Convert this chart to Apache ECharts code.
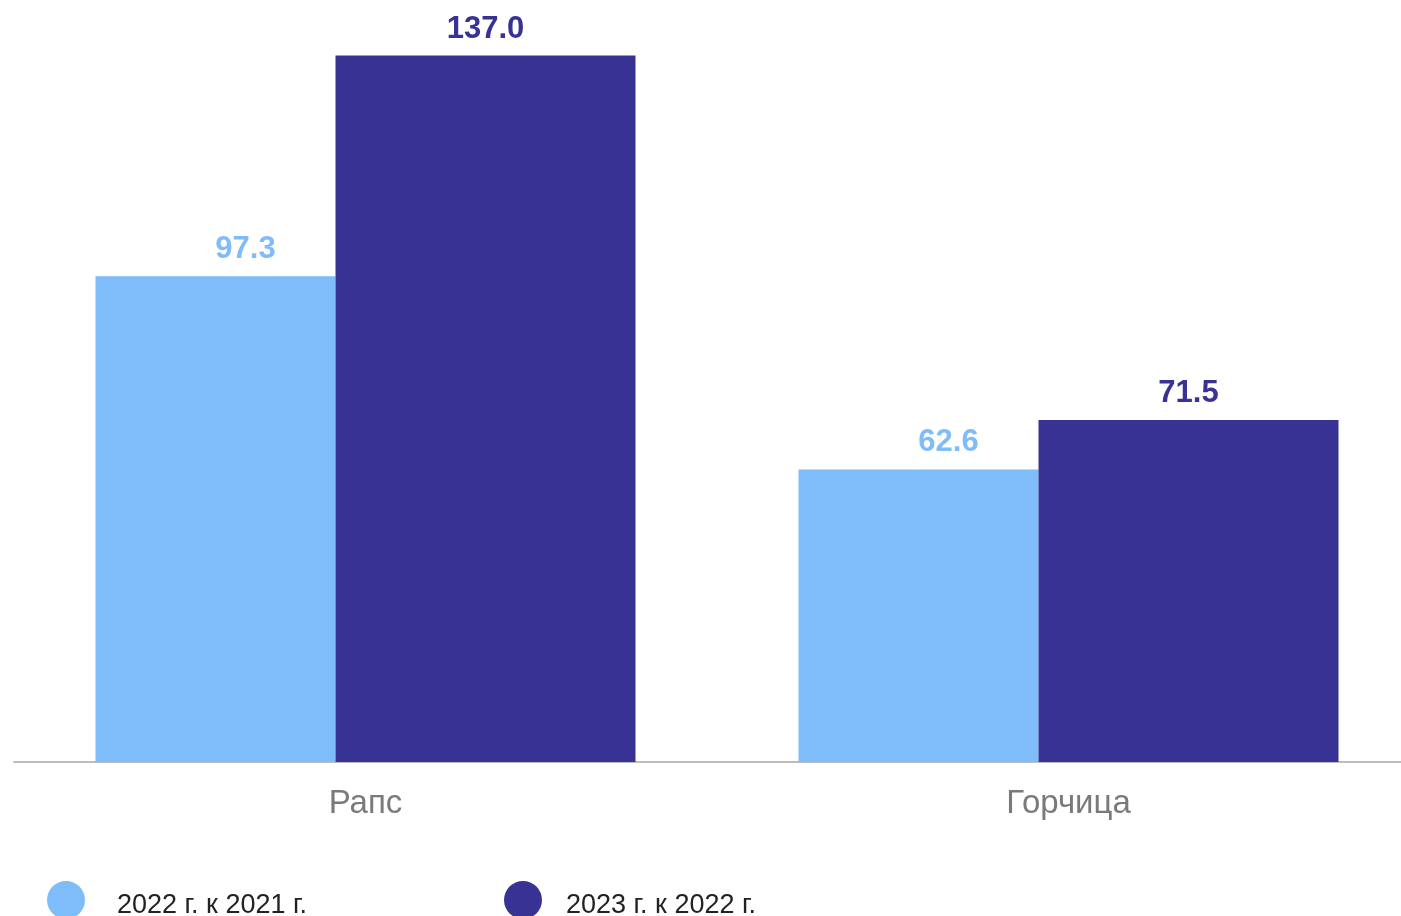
<!DOCTYPE html>
<html lang="ru">
  <head>
    <meta charset="UTF-8">
    <title>Рапс и горчица</title>
    <script src="https://cdn.jsdelivr.net/npm/echarts@6/dist/echarts.min.js"></script>
    <style>
      html, body { margin: 0; padding: 0; background: #fff; }
    </style>
  </head>
  <body>
    <div id="main" style="width: 1401px;height:916px;"></div>
    <script type="text/javascript">
      // данные
      var categories = ['Рапс', 'Горчица'];
      var seriesNames = ['2022 г. к 2021 г.', '2023 г. к 2022 г.'];
      var values2022 = [97.3, 62.6];
      var values2023 = [137.0, 71.5];

      var lightColor = '#7fbcfa';
      var darkColor = '#373294';

      var myChart = echarts.init(document.getElementById('main'));

      function labelFor(color, dx) {
        return {
          show: true,
          position: 'top',
          distance: 11,
          offset: [dx, 0],
          color: color,
          fontFamily: 'Liberation Sans, Arial, sans-serif',
          fontWeight: 'bold',
          fontSize: 31,
          formatter: function (p) { return p.value.toFixed(1); }
        };
      }

      // отдельная легенда на каждый ряд: отступы у текста разные
      function legendFor(name, left, gap) {
        return {
          left: left,
          top: 876,
          icon: 'circle',
          itemWidth: 38,
          itemHeight: 38,
          formatter: '{t|{name}}',
          textStyle: {
            color: '#222',
            fontSize: 27,
            fontFamily: 'Liberation Sans, Arial, sans-serif',
            padding: [0, 0, 0, gap],
            rich: {
              t: {
                color: '#222',
                fontSize: 27,
                fontFamily: 'Liberation Sans, Arial, sans-serif',
                padding: [12, 0, 0, 0]
              }
            }
          },
          data: [name]
        };
      }

      var option = {
        animation: false,
        backgroundColor: '#fff',
        grid: {
          left: 14,
          width: 1406,
          top: 11,
          bottom: 154,
          outerBoundsMode: 'none'
        },
        legend: [
          legendFor(seriesNames[0], 42, 27),
          legendFor(seriesNames[1], 499, 19)
        ],
        xAxis: {
          type: 'category',
          data: categories,
          axisLine: { lineStyle: { color: '#bdbdbd', width: 2 } },
          axisTick: { show: false },
          axisLabel: {
            color: '#7a7a7a',
            fontSize: 33,
            margin: 25,
            fontFamily: 'Liberation Sans, Arial, sans-serif'
          }
        },
        yAxis: {
          type: 'value',
          min: 10,
          max: 145,
          show: false,
          splitLine: { show: false }
        },
        series: [
          {
            name: seriesNames[0],
            type: 'bar',
            data: values2022,
            barWidth: 240,
            barGap: '0%',
            itemStyle: { color: lightColor },
            label: labelFor(lightColor, 30)
          },
          {
            name: seriesNames[1],
            type: 'bar',
            data: values2023,
            barWidth: 300,
            barGap: '0%',
            itemStyle: { color: darkColor },
            label: labelFor(darkColor, 0)
          }
        ]
      };

      myChart.setOption(option);
    </script>
  </body>
</html>
